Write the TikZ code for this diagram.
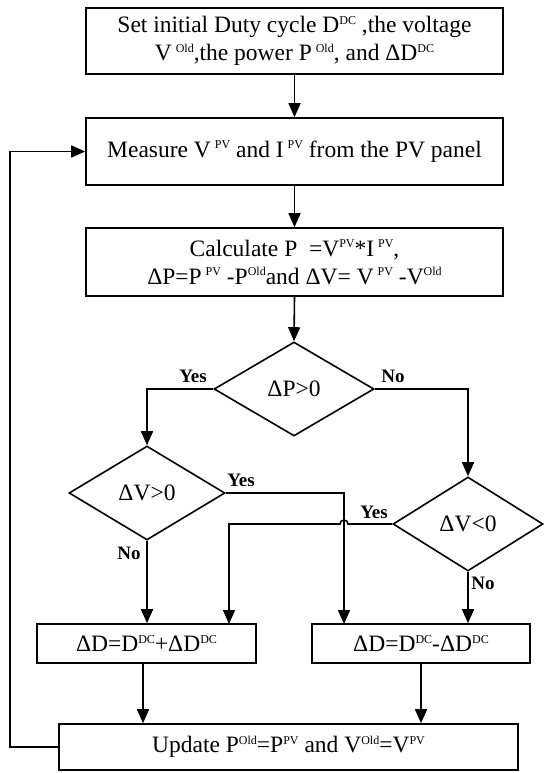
\documentclass[tikz,border=0pt]{standalone}
\usepackage{fontspec}
\setmainfont{Liberation Serif}
\usetikzlibrary{shapes.geometric,arrows.meta,calc}
\newcommand{\su}[1]{\raisebox{0.8ex}{\fontsize{12}{12}\selectfont #1}}
\tikzset{
  box/.style={draw, line width=1.6pt, inner sep=0pt, align=center, font=\fontsize{23.5}{28}\selectfont},
  dia/.style={draw, diamond, line width=1.6pt, inner sep=0pt, align=center, font=\fontsize{23.5}{28}\selectfont},
  conn/.style={line width=1.6pt, -{Triangle[width=12pt,length=14pt]}},
  lbl/.style={font=\fontsize{19}{19}\selectfont\bfseries, inner sep=0pt}
}
\begin{document}
\begin{tikzpicture}[x=1pt,y=-1pt]
\useasboundingbox (0,0) rectangle (543,773);
\node[box, minimum width=417pt, minimum height=66pt] (b1) at (294.5,41)
  {Set initial Duty cycle D\su{DC} ,the voltage\\ V\,\su{Old},the power P\,\su{Old}, and ΔD\su{DC}};
\node[box, minimum width=417pt, minimum height=67pt] (b2) at (294.5,151.5)
  {Measure V\,\su{PV} and I\,\su{PV} from the PV panel};
\node[box, minimum width=417pt, minimum height=68pt] (b3) at (294.5,262)
  {Calculate P\ \ =V\su{PV}*I\,\su{PV},\\ ΔP=P\,\su{PV} -P\su{Old}and ΔV= V\,\su{PV} -V\su{Old}};
\node[dia, minimum width=160pt, minimum height=94pt] (d1) at (294,389) {ΔP>0};
\node[dia, minimum width=156pt, minimum height=94pt] (d2) at (147,493) {ΔV>0};
\node[dia, minimum width=150pt, minimum height=94pt] (d3) at (468,524) {ΔV<0};
\node[box, minimum width=219pt, minimum height=39pt] (b4) at (146.5,643.5) {ΔD=D\su{DC}+ΔD\su{DC}};
\node[box, minimum width=218pt, minimum height=39pt] (b5) at (421,643.5) {ΔD=D\su{DC}-ΔD\su{DC}};
\node[box, minimum width=459pt, minimum height=46pt] (b6) at (288.5,747)
  {Update P\su{Old}=P\su{PV} and V\su{Old}=V\su{PV}};
\coordinate (b5l) at (344,624);
\coordinate (b4r) at (229,624);
\coordinate (fb) at (10,0);
\coordinate (hopR) at (348,524);
\coordinate (hopL) at (340,524);
% connectors
\draw[conn] (b1.south) -- (b2.north);
\draw[conn] (b2.south) -- (b3.north);
\draw[conn] (b3.south) -- (d1.north);
\draw[conn] (d1.west) -| (d2.north);
\draw[conn] (d1.east) -| (d3.north);
\draw[conn] (d2.east) -| (b5l);
\draw[conn] (d3.west) -- (hopR) arc[start angle=0,end angle=180,radius=4pt] -- (hopL) -- (hopL -| b4r) -- (b4r);
\draw[conn] (d2.south) -- (d2.south |- b4.north);
\draw[conn] (d3.south) -- (d3.south |- b5.north);
\draw[conn] ([xshift=-3.5pt]b4.south) -- ([xshift=-3.5pt]b4.south |- b6.north);
\draw[conn] (b5.south) -- (b5.south |- b6.north);
\draw[conn] (b6.west) -- (b6.west -| fb) -- (fb |- b2.west) -- (b2.west);
% labels
\node[lbl] (y1) at (193,376) {Yes};
\node[lbl] (n1) at (393,376) {No};
\node[lbl] (y2) at (241,480) {Yes};
\node[lbl] (y3) at (374,512) {Yes};
\node[lbl] (n2) at (129,553) {No};
\node[lbl] (n3) at (483,583) {No};
\end{tikzpicture}
\end{document}
